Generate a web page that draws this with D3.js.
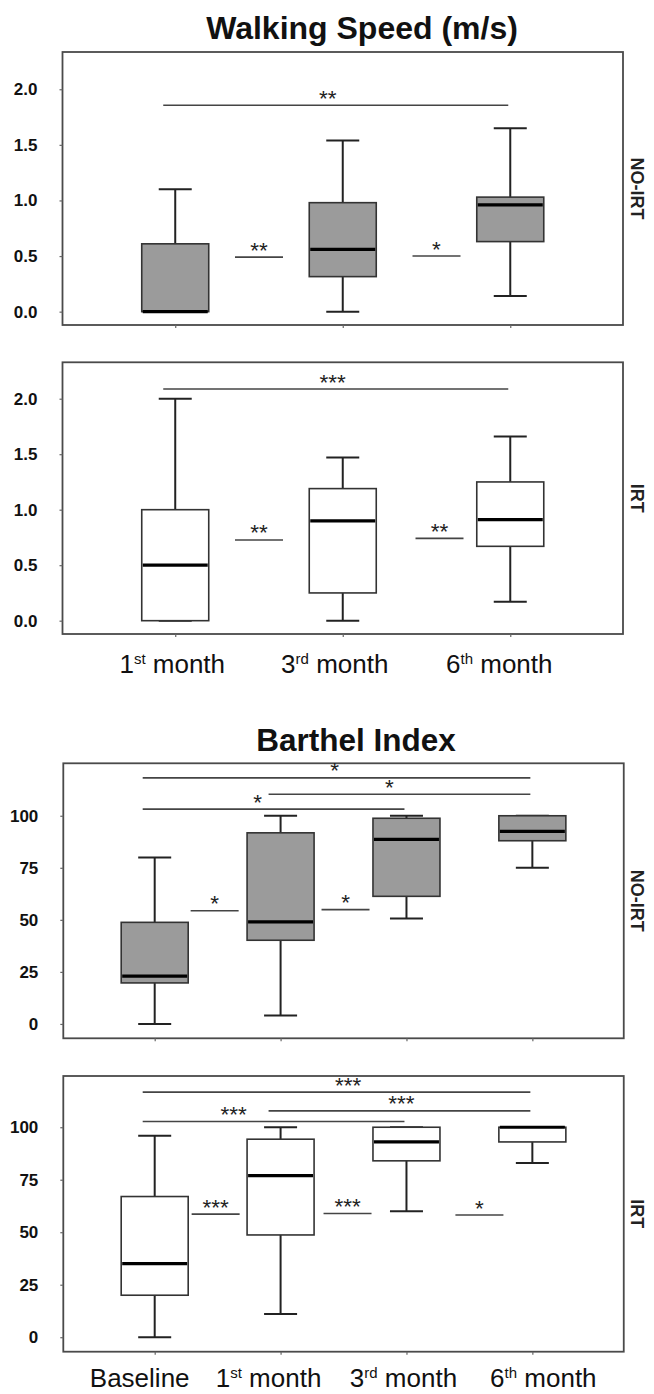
<!DOCTYPE html>
<html>
<head>
<meta charset="utf-8">
<script src="https://cdn.jsdelivr.net/npm/d3@7/dist/d3.min.js"></script>
<style>
  html, body { margin: 0; padding: 0; background: #fff; }
  svg { display: block; }
  text { font-family: "Liberation Sans", Arial, sans-serif; }
</style>
</head>
<body>
<svg id="chart" width="654" height="1394"></svg>
<script>
// ---------------- DATA ----------------
const walkCategories = ["1st month", "3rd month", "6th month"];
const walkTicks = [0, 0.5, 1.0, 1.5, 2.0];

const walkNoIrtMin    = [0.00, 0.00, 0.14];
const walkNoIrtQ1     = [0.00, 0.315, 0.63];
const walkNoIrtMedian = [0.00, 0.56, 0.96];
const walkNoIrtQ3     = [0.61, 0.98, 1.03];
const walkNoIrtMax    = [1.10, 1.54, 1.65];

const walkIrtMin    = [0.00, 0.00, 0.17];
const walkIrtQ1     = [0.00, 0.25, 0.67];
const walkIrtMedian = [0.50, 0.90, 0.91];
const walkIrtQ3     = [1.00, 1.19, 1.25];
const walkIrtMax    = [2.00, 1.47, 1.66];

const walkNoIrtSig = [
  { from: "1st month", to: "6th month", y: 1.856, label: "**", type: "long" },
  { from: "1st month", to: "3rd month", y: 0.49,  label: "**", type: "short" },
  { from: "3rd month", to: "6th month", y: 0.50,  label: "*",  type: "short" }
];
const walkIrtSig = [
  { from: "1st month", to: "6th month", y: 2.087, label: "***", type: "long" },
  { from: "1st month", to: "3rd month", y: 0.727, label: "**",  type: "short" },
  { from: "3rd month", to: "6th month", y: 0.742, label: "**",  type: "short" }
];

const barthelCategories = ["Baseline", "1st month", "3rd month", "6th month"];
const barthelTicks = [0, 25, 50, 75, 100];

const barthelNoIrtMin    = [0, 4, 50.6, 75];
const barthelNoIrtQ1     = [19.7, 40.2, 61.3, 88];
const barthelNoIrtMedian = [23, 49, 88.7, 92.5];
const barthelNoIrtQ3     = [48.8, 91.8, 98.8, 100];
const barthelNoIrtMax    = [80, 100, 100, 100];

const barthelIrtMin    = [0, 11, 60, 83];
const barthelIrtQ1     = [20, 48.7, 84, 93];
const barthelIrtMedian = [35, 77, 93, 100];
const barthelIrtQ3     = [67, 94.3, 100, 100];
const barthelIrtMax    = [96, 100, 100, 100];

const barthelNoIrtSig = [
  { from: "Baseline",  to: "6th month", y: 118.2, label: "*", type: "long" },
  { from: "1st month", to: "6th month", y: 110.3, label: "*", type: "long" },
  { from: "Baseline",  to: "3rd month", y: 103.2, label: "*", type: "long" },
  { from: "Baseline",  to: "1st month", y: 54.4,  label: "*", type: "short" },
  { from: "1st month", to: "3rd month", y: 54.9,  label: "*", type: "short" }
];
const barthelIrtSig = [
  { from: "Baseline",  to: "6th month", y: 116.7, label: "***", type: "long" },
  { from: "1st month", to: "6th month", y: 107.8, label: "***", type: "long" },
  { from: "Baseline",  to: "3rd month", y: 102.7, label: "***", type: "long" },
  { from: "Baseline",  to: "1st month", y: 58.6,  label: "***", type: "short" },
  { from: "1st month", to: "3rd month", y: 58.9,  label: "***", type: "short" },
  { from: "3rd month", to: "6th month", y: 58.2,  label: "*",   type: "short" }
];

// ---------------- LAYOUT ----------------
const svg = d3.select("#chart");
const FILL = "#9b9b9b";
const BOXW = 67;
const CAPW = 33;

const panels = [
  { cats: walkCategories, ticks: walkTicks, fmt: d3.format(".1f"),
    min: walkNoIrtMin, q1: walkNoIrtQ1, med: walkNoIrtMedian, q3: walkNoIrtQ3, max: walkNoIrtMax,
    sig: walkNoIrtSig, fill: FILL, side: "NO-IRT",
    x0: 62.5, x1: 623, y0: 52, y1: 325, dom: [-0.12, 2.335], pad: 0.673,
    labelDx: [-8], shortDx: [0, 10], xlabels: false },
  { cats: walkCategories, ticks: walkTicks, fmt: d3.format(".1f"),
    min: walkIrtMin, q1: walkIrtQ1, med: walkIrtMedian, q3: walkIrtQ3, max: walkIrtMax,
    sig: walkIrtSig, fill: "#ffffff", side: "IRT",
    x0: 62.5, x1: 623, y0: 362.3, y1: 634, dom: [-0.12, 2.328], pad: 0.673,
    labelDx: [-3], shortDx: [0, 13], xlabels: true, xlabelY: 672.7, xlabelDx: [-3, -8, -11] },
  { cats: barthelCategories, ticks: barthelTicks, fmt: d3.format("d"),
    min: barthelNoIrtMin, q1: barthelNoIrtQ1, med: barthelNoIrtMedian, q3: barthelNoIrtQ3, max: barthelNoIrtMax,
    sig: barthelNoIrtSig, fill: FILL, side: "NO-IRT",
    x0: 63.3, x1: 623.75, y0: 763.3, y1: 1038.3, dom: [-6.9, 125.2], pad: 0.726,
    labelDx: [-2, -10, -16], shortDx: [-3, 2], xlabels: false },
  { cats: barthelCategories, ticks: barthelTicks, fmt: d3.format("d"),
    min: barthelIrtMin, q1: barthelIrtQ1, med: barthelIrtMedian, q3: barthelIrtQ3, max: barthelIrtMax,
    sig: barthelIrtSig, fill: "#ffffff", side: "IRT",
    x0: 63.3, x1: 623.75, y0: 1076, y1: 1351.7, dom: [-6.9, 124.4], pad: 0.726,
    labelDx: [11.5, 2, -40], shortDx: [-2, 4, 10], xlabels: true, xlabelY: 1386.7, xlabelDx: [-15, -12, -3, 11] }
];

// Titles
svg.append("text").attr("x", 362).attr("y", 38.5).attr("text-anchor", "middle")
  .attr("font-size", 32).attr("font-weight", "bold").attr("fill", "#111")
  .text("Walking Speed (m/s)");
svg.append("text").attr("x", 356).attr("y", 751).attr("text-anchor", "middle")
  .attr("font-size", 31.5).attr("font-weight", "bold").attr("fill", "#111")
  .text("Barthel Index");

function catLabel(sel, name) {
  const m = name.match(/^(\d)(st|nd|rd|th) (.*)$/);
  if (m) {
    sel.append("tspan").text(m[1]);
    sel.append("tspan").attr("font-size", 15).attr("dy", -9).text(m[2]);
    sel.append("tspan").attr("dy", 9).text("\u00a0" + m[3]);
  } else {
    sel.text(name);
  }
}

panels.forEach(p => {
  const g = svg.append("g");
  const x = d3.scalePoint().domain(p.cats).range([p.x0, p.x1]).padding(p.pad);
  const y = d3.scaleLinear().domain(p.dom).range([p.y1, p.y0]);

  // frame
  g.append("rect").attr("x", p.x0).attr("y", p.y0)
    .attr("width", p.x1 - p.x0).attr("height", p.y1 - p.y0)
    .attr("fill", "none").attr("stroke", "#4a4a4a").attr("stroke-width", 1.8);

  // y axis
  const yAxis = d3.axisLeft(y).tickValues(p.ticks).tickFormat(p.fmt).tickSize(3).tickPadding(22);
  const ya = g.append("g").attr("transform", `translate(${p.x0},0)`).call(yAxis);
  ya.select(".domain").remove();
  ya.selectAll(".tick line").attr("stroke", "#666").attr("stroke-width", 1.2);
  ya.selectAll(".tick text").attr("font-size", 17).attr("font-weight", "bold")
    .attr("fill", "#111").attr("font-family", "Liberation Sans, Arial, sans-serif");

  // x axis ticks
  const xAxis = d3.axisBottom(x).tickSize(3).tickFormat("");
  const xa = g.append("g").attr("transform", `translate(0,${p.y1})`).call(xAxis);
  xa.select(".domain").remove();
  xa.selectAll(".tick line").attr("stroke", "#666").attr("stroke-width", 1.2);

  // boxes
  p.cats.forEach((c, i) => {
    const cx = x(c);
    g.append("line").attr("x1", cx).attr("x2", cx).attr("y1", y(p.q3[i])).attr("y2", y(p.max[i]))
      .attr("stroke", "#222").attr("stroke-width", 2);
    g.append("line").attr("x1", cx).attr("x2", cx).attr("y1", y(p.q1[i])).attr("y2", y(p.min[i]))
      .attr("stroke", "#222").attr("stroke-width", 2);
    g.append("line").attr("x1", cx - CAPW / 2).attr("x2", cx + CAPW / 2)
      .attr("y1", y(p.max[i])).attr("y2", y(p.max[i])).attr("stroke", "#222").attr("stroke-width", 2);
    g.append("line").attr("x1", cx - CAPW / 2).attr("x2", cx + CAPW / 2)
      .attr("y1", y(p.min[i])).attr("y2", y(p.min[i])).attr("stroke", "#222").attr("stroke-width", 2);
    g.append("rect").attr("x", cx - BOXW / 2).attr("width", BOXW)
      .attr("y", y(p.q3[i])).attr("height", Math.max(0.5, y(p.q1[i]) - y(p.q3[i])))
      .attr("fill", p.fill).attr("stroke", "#333").attr("stroke-width", 1.6);
    g.append("line").attr("x1", cx - BOXW / 2 + 1).attr("x2", cx + BOXW / 2 - 1)
      .attr("y1", y(p.med[i])).attr("y2", y(p.med[i]))
      .attr("stroke", "#000").attr("stroke-width", 3.2);
  });

  // significance annotations
  let li = 0, si = 0;
  p.sig.forEach(s => {
    let xa1, xa2, lx;
    if (s.type === "long") {
      xa1 = x(s.from) - 12; xa2 = x(s.to) - 2;
      lx = (xa1 + xa2) / 2 + (p.labelDx[li] || 0);
      li++;
    } else {
      const mid = (x(s.from) + x(s.to)) / 2 + (p.shortDx[si] || 0);
      xa1 = mid - 24; xa2 = mid + 24; lx = mid;
      si++;
    }
    const ly = y(s.y);
    g.append("line").attr("x1", xa1).attr("x2", xa2).attr("y1", ly).attr("y2", ly)
      .attr("stroke", "#444").attr("stroke-width", 1.6);
    g.append("text").attr("x", lx).attr("y", ly + 0.5).attr("text-anchor", "middle")
      .attr("font-size", 22.5).attr("fill", "#222").text(s.label);
  });

  // side label
  const cy = (p.y0 + p.y1) / 2;
  g.append("text").attr("transform", `translate(${631},${cy}) rotate(90)`)
    .attr("text-anchor", "middle").attr("font-size", 18).attr("font-weight", "bold")
    .attr("fill", "#222").text(p.side);

  // x labels
  if (p.xlabels) {
    p.cats.forEach((c, i) => {
      const t = g.append("text").attr("x", x(c) + (p.xlabelDx[i] || 0)).attr("y", p.xlabelY)
        .attr("text-anchor", "middle").attr("font-size", 26).attr("fill", "#111");
      catLabel(t, c);
    });
  }
});
</script>
</body>
</html>
